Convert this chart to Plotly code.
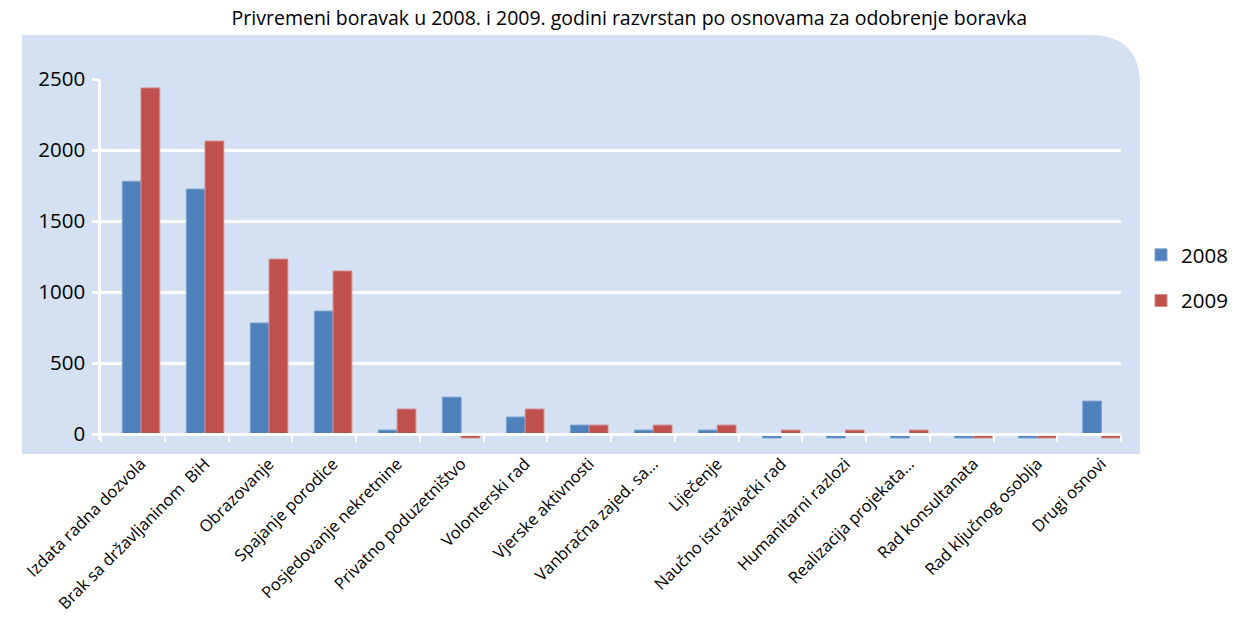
import plotly.graph_objects as go

categories = [
    "Izdata radna dozvola",
    "Brak sa državljaninom  BiH",
    "Obrazovanje",
    "Spajanje porodice",
    "Posjedovanje nekretnine",
    "Privatno poduzetništvo",
    "Volonterski rad",
    "Vjerske aktivnosti",
    "Vanbračna zajed. sa…",
    "Liječenje",
    "Naučno istraživački rad",
    "Humanitarni razlozi",
    "Realizacija projekata…",
    "Rad konsultanata",
    "Rad ključnog osoblja",
    "Drugi osnovi",
]
values_2008 = [1780, 1725, 782, 866, 28, 260, 120, 63, 28, 28, -28, -28, -28, -28, -28, 232]
values_2009 = [2437, 2063, 1232, 1148, 176, -28, 176, 63, 63, 63, 28, 28, 28, -28, -28, -28]
y_ticks = [0, 500, 1000, 1500, 2000, 2500]

W, H = 1234, 622
L, R, T, B = 101, 1121, 79, 440

def px2x(px):
    return (px - L) / (R - L)

def py2y(py):
    return (B - py) / (B - T)

font_family = "Open Sans, Noto Sans, DejaVu Sans, sans-serif"

# bar-group placement (as in the reference, groups slightly offset from tick marks)
first_center_px, step_px = 141, 64.03
bar_range = [(L - first_center_px) / step_px, (R - first_center_px) / step_px]
n = len(categories)

fig = go.Figure()
fig.add_trace(go.Bar(
    x=categories, y=values_2008, name="2008",
    marker=dict(color="#4F81BD", line=dict(color="#7EA3D2", width=1)),
    legendgroup="a",
))
fig.add_trace(go.Bar(
    x=categories, y=values_2009, name="2009",
    marker=dict(color="#C0504D", line=dict(color="#D48A88", width=1)),
    legendgroup="b",
))
# carrier for the category tick-mark axis (draws nothing itself)
fig.add_trace(go.Scatter(
    x=categories, y=values_2008, mode="none", xaxis="x2",
    showlegend=False, hoverinfo="skip",
))

# rounded plot-area background
x0, y0, x1, y1, r = 22, 35, 1140, 454, 50
path = (
    f"M {px2x(x0)} {py2y(y1)} L {px2x(x0)} {py2y(y0)} "
    f"L {px2x(x1 - r)} {py2y(y0)} Q {px2x(x1)} {py2y(y0)} {px2x(x1)} {py2y(y0 + r)} "
    f"L {px2x(x1)} {py2y(y1)} Z"
)
fig.add_shape(type="path", path=path, xref="paper", yref="paper",
              fillcolor="#D3E1F3", line=dict(width=0), layer="below")

zero_pos = (B - 434) / (B - T)

fig.update_layout(
    width=W, height=H,
    margin=dict(l=L, r=W - R, t=T, b=H - B, pad=0, autoexpand=False),
    paper_bgcolor="white",
    plot_bgcolor="rgba(0,0,0,0)",
    barmode="group",
    bargap=0.414,
    bargroupgap=0.0,
    font=dict(family=font_family, color="black"),
    title=dict(
        text="Privremeni boravak u 2008. i 2009. godini razvrstan po osnovama za odobrenje boravka",
        x=0.51, xref="container", xanchor="center",
        y=1 - 18 / H, yref="container", yanchor="middle",
        font=dict(size=19.5, family=font_family, color="black"),
    ),
    legend=dict(
        x=px2x(1141), xanchor="left", y=py2y(278), yanchor="middle",
        font=dict(size=20.5), tracegroupgap=16, bgcolor="rgba(0,0,0,0)",
    ),
    xaxis=dict(
        anchor="free", position=zero_pos, range=bar_range,
        showline=False, ticks="", tickangle=-45, tickfont=dict(size=16.5),
        showgrid=False, zeroline=False, ticklabelstandoff=16,
    ),
    xaxis2=dict(
        overlaying="x", anchor="free", position=zero_pos, side="bottom",
        type="category", range=[-0.5, n - 0.5], tickson="boundaries",
        showticklabels=False,
        showline=True, linecolor="white", linewidth=2.5,
        ticks="outside", ticklen=6, tickwidth=2, tickcolor="white",
        showgrid=False, zeroline=False,
    ),
    yaxis=dict(
        range=[-42, 2500], tickvals=y_ticks,
        showgrid=True, gridcolor="white", gridwidth=2.5,
        showline=True, linecolor="white", linewidth=2.5,
        ticks="outside", ticklen=6, tickwidth=2.5, tickcolor="white",
        zeroline=False, tickfont=dict(size=20.5), ticklabelstandoff=3,
    ),
)

fig.write_html("out.html", config={"displayModeBar": False},
               post_script="document.body.style.margin='0';")
